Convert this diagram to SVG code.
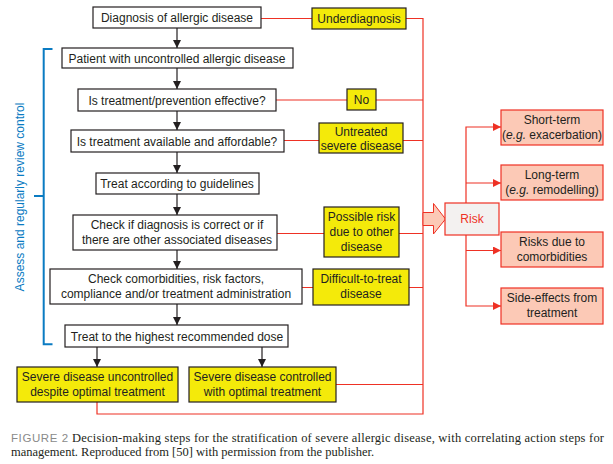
<svg xmlns="http://www.w3.org/2000/svg" width="613" height="464" viewBox="0 0 613 464">
<defs>
<marker id="ab" viewBox="0 0 10 10" refX="10" refY="5" markerWidth="8" markerHeight="8" markerUnits="userSpaceOnUse" orient="auto"><path d="M0,0 L10,5 L0,10 z" fill="#231f20"/></marker>
<marker id="ar" viewBox="0 0 10 10" refX="10" refY="5" markerWidth="8" markerHeight="8" markerUnits="userSpaceOnUse" orient="auto"><path d="M0,0 L10,5 L0,10 z" fill="#ee3124"/></marker>
<style>
.w{fill:#fff;stroke:#231f20;stroke-width:1.2}
.y{fill:#f4ea0a;stroke:#231f20;stroke-width:1.2}
.p{fill:#fcc9b6;stroke:#ee3124;stroke-width:1.2}
text{font-family:"Liberation Sans",Arial,sans-serif;font-size:12px;fill:#231f20;text-anchor:middle}
.k{stroke:#231f20;stroke-width:1.2;fill:none}
.r{stroke:#ee3124;stroke-width:1.2;fill:none}
.c{text-anchor:start;font-family:"Liberation Serif","Times New Roman",serif;font-size:12.5px}
</style>
</defs>
<rect width="613" height="464" fill="#fff"/>
<g id="connectors">
<line class="k" x1="177" y1="28" x2="177" y2="48" marker-end="url(#ab)"/>
<line class="k" x1="177" y1="68" x2="177" y2="89" marker-end="url(#ab)"/>
<line class="k" x1="177" y1="111" x2="177" y2="130" marker-end="url(#ab)"/>
<line class="k" x1="177" y1="152" x2="177" y2="173" marker-end="url(#ab)"/>
<line class="k" x1="177" y1="194" x2="177" y2="215" marker-end="url(#ab)"/>
<line class="k" x1="177" y1="250" x2="177" y2="269" marker-end="url(#ab)"/>
<line class="k" x1="177" y1="304" x2="177" y2="325" marker-end="url(#ab)"/>
<line class="k" x1="97" y1="347" x2="97" y2="367" marker-end="url(#ab)"/>
<line class="k" x1="262" y1="347" x2="262" y2="367" marker-end="url(#ab)"/>
<line class="r" x1="261" y1="18.5" x2="312" y2="18.5"/>
<polyline class="r" points="406,18.5 423,18.5 423,414 97,414 97,402"/>
<line class="r" x1="276" y1="100" x2="423" y2="100"/>
<line class="r" x1="284" y1="140.5" x2="423" y2="140.5"/>
<line class="r" x1="277" y1="233.5" x2="423" y2="233.5"/>
<line class="r" x1="302" y1="287.5" x2="423" y2="287.5"/>
<line class="r" x1="336" y1="384.5" x2="423" y2="384.5"/>
<path d="M423,212.5 H433.5 V203.5 L445.5,219 L433.5,234 V225.5 H423 Z" fill="#fcc9b6" stroke="#ee3124" stroke-width="1"/>
<polyline class="r" points="466,203 466,127 501,127" marker-end="url(#ar)"/>
<line class="r" x1="466" y1="183" x2="501" y2="183" marker-end="url(#ar)"/>
<polyline class="r" points="466,235 466,306 501,306" marker-end="url(#ar)"/>
<line class="r" x1="466" y1="250.5" x2="501" y2="250.5" marker-end="url(#ar)"/>
<polyline points="52.5,49 43.7,49 43.7,344.3 52.5,344.3" fill="none" stroke="#0a7bc2" stroke-width="2"/>
<line x1="34" y1="196" x2="43.7" y2="196" stroke="#0a7bc2" stroke-width="2"/>
</g>
<g id="bracket-label"><text transform="translate(23.5,197) rotate(-90)" style="fill:#0a7bc2;font-size:12px">Assess and regularly review control</text></g>
<g id="n1"><rect class="w" x="93" y="7" width="168" height="21"/><text x="177" y="22">Diagnosis of allergic disease</text></g>
<g id="n2"><rect class="w" x="62" y="48" width="231" height="20"/><text x="177" y="62.5">Patient with uncontrolled allergic disease</text></g>
<g id="n3"><rect class="w" x="78" y="89" width="198" height="22"/><text x="177" y="104.5">Is treatment/prevention effective?</text></g>
<g id="n4"><rect class="w" x="71" y="130" width="213" height="22"/><text x="177" y="145.5">Is treatment available and affordable?</text></g>
<g id="n5"><rect class="w" x="96" y="173" width="163" height="21"/><text x="177" y="188">Treat according to guidelines</text></g>
<g id="n6"><rect class="w" x="73" y="215" width="204" height="35"/><text x="177" y="229">Check if diagnosis is correct or if</text><text x="177" y="244">there are other associated diseases</text></g>
<g id="n7"><rect class="w" x="50" y="269" width="252" height="35"/><text x="176" y="283">Check comorbidities, risk factors,</text><text x="176" y="298">compliance and/or treatment administration</text></g>
<g id="n8"><rect class="w" x="65" y="325" width="223" height="22"/><text x="177" y="340.5">Treat to the highest recommended dose</text></g>
<g id="n9"><rect class="y" x="17" y="367" width="161" height="35"/><text x="97.5" y="381">Severe disease uncontrolled</text><text x="97.5" y="396">despite optimal treatment</text></g>
<g id="n10"><rect class="y" x="189" y="367" width="147" height="35"/><text x="262.5" y="381">Severe disease controlled</text><text x="262.5" y="396">with optimal treatment</text></g>
<g id="y1"><rect class="y" x="312" y="8" width="94" height="21"/><text x="359" y="23">Underdiagnosis</text></g>
<g id="y2"><rect class="y" x="347" y="89" width="29" height="21"/><text x="361.5" y="104">No</text></g>
<g id="y3"><rect class="y" x="319" y="123" width="84" height="30"/><text x="361" y="136">Untreated</text><text x="361" y="150">severe disease</text></g>
<g id="y4"><rect class="y" x="324" y="207" width="75" height="50"/><text x="361.5" y="221">Possible risk</text><text x="361.5" y="236">due to other</text><text x="361.5" y="251">disease</text></g>
<g id="y5"><rect class="y" x="313" y="269" width="96" height="36"/><text x="361" y="283">Difficult-to-treat</text><text x="361" y="298">disease</text></g>
<g id="risk"><rect x="445" y="203" width="54" height="32" fill="#f3f1f0" stroke="#ee3124" stroke-width="1.2"/><text x="472" y="223" style="fill:#ee3124">Risk</text></g>
<g id="r1"><rect class="p" x="501" y="110" width="102" height="35"/><text x="552" y="124">Short-term</text><text x="552" y="139">(<tspan font-style="italic">e.g.</tspan> exacerbation)</text></g>
<g id="r2"><rect class="p" x="501" y="165" width="102" height="35"/><text x="552" y="179">Long-term</text><text x="552" y="194">(<tspan font-style="italic">e.g.</tspan> remodelling)</text></g>
<g id="r3"><rect class="p" x="501" y="232" width="102" height="35"/><text x="552" y="246">Risks due to</text><text x="552" y="261">comorbidities</text></g>
<g id="r4"><rect class="p" x="501" y="288" width="102" height="36"/><text x="552" y="302">Side-effects from</text><text x="552" y="317">treatment</text></g>
<g id="caption">
<text x="11" y="442" style="text-anchor:start;fill:#8a8a8a;font-size:11.5px;letter-spacing:0.6px">FIGURE 2</text>
<text x="72" y="442" class="c" textLength="532" lengthAdjust="spacing">Decision-making steps for the stratification of severe allergic disease, with correlating action steps for</text>
<text x="11" y="456" class="c">management. Reproduced from [50] with permission from the publisher.</text>
</g>
</svg>
